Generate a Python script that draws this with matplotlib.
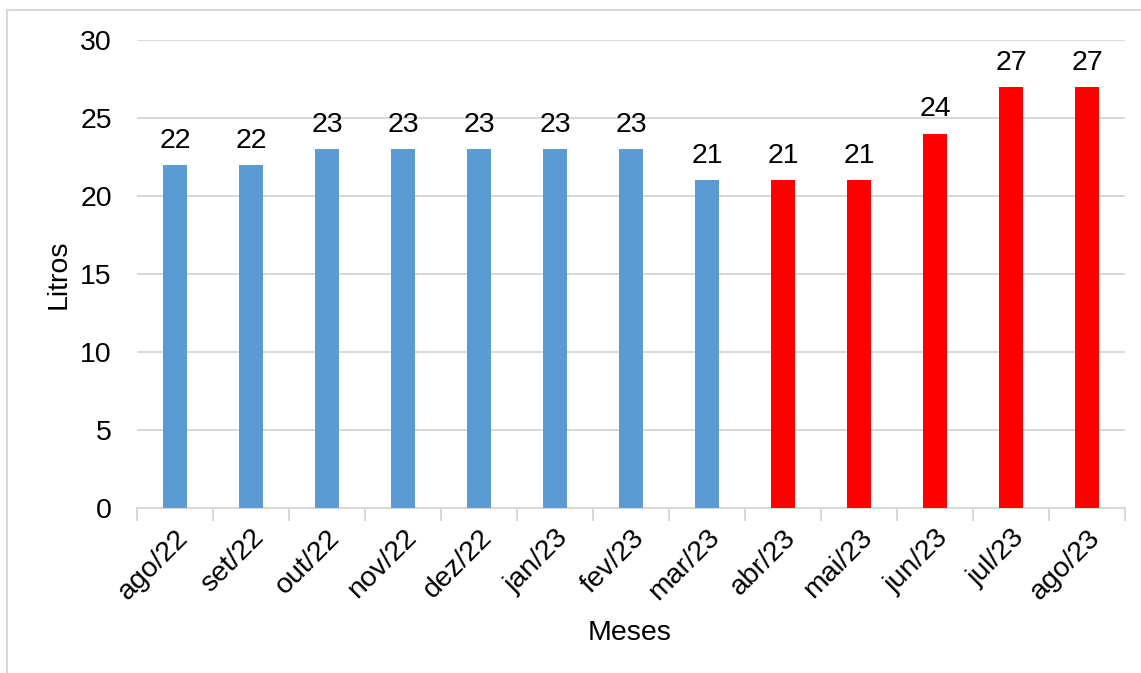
import matplotlib
matplotlib.use("Agg")
import matplotlib.pyplot as plt
from matplotlib.patches import Rectangle

plt.rcParams['font.family'] = ['Liberation Sans', 'DejaVu Sans']

meses = ['ago/22', 'set/22', 'out/22', 'nov/22', 'dez/22', 'jan/23', 'fev/23',
         'mar/23', 'abr/23', 'mai/23', 'jun/23', 'jul/23', 'ago/23']
litros = [22, 22, 23, 23, 23, 23, 23, 21, 21, 21, 24, 27, 27]
cores = ['#5B9BD5'] * 8 + ['#FF0000'] * 5

W, H = 1141, 673
fig = plt.figure(figsize=(W / 100, H / 100), dpi=100)
ax = fig.add_axes([137 / W, 1 - 508 / H, (1125 - 137) / W, (508 - 40) / H])

x = list(range(len(meses)))
bars = ax.bar(x, litros, width=0.31, color=cores, zorder=3)

for xi, v in zip(x, litros):
    ax.annotate(str(v), (xi, v), xytext=(0, 8), textcoords='offset points',
                ha='center', va='bottom', fontsize=20.5, color='black')

ax.set_xlim(-0.5, len(meses) - 0.5)
ax.set_ylim(0, 30)
ax.set_yticks(range(0, 31, 5))
ax.yaxis.grid(True, color='#D9D9D9', linewidth=1.5, zorder=0)
ax.tick_params(axis='y', length=0, labelsize=20.5, pad=18)

# category boundaries carry the tick marks, centres carry the labels
ax.set_xticks([i - 0.5 for i in range(len(meses) + 1)], minor=False)
ax.set_xticklabels([''] * (len(meses) + 1))
ax.tick_params(axis='x', which='major', length=9, width=1.5, color='#D9D9D9')
ax.set_xticks(x, minor=True)
ax.set_xticklabels(meses, minor=True, rotation=45, ha='right',
                   rotation_mode='anchor', fontsize=20.5)
ax.tick_params(axis='x', which='minor', length=0, pad=12)

for s in ['top', 'right', 'left']:
    ax.spines[s].set_visible(False)
ax.spines['bottom'].set_color('#D9D9D9')
ax.spines['bottom'].set_linewidth(1.5)

ax.set_ylabel('Litros', fontsize=20.5, labelpad=6)
fig.text(630 / W, 1 - 633 / H, 'Meses', fontsize=20.5, ha='center', va='center')

fig.patches.append(Rectangle((7 / W, -0.1), 1.2, 1 - 10 / H + 0.1,
                             transform=fig.transFigure, fill=False,
                             edgecolor='#D9D9D9', linewidth=1.5))

fig.savefig('out.png', dpi=100)
